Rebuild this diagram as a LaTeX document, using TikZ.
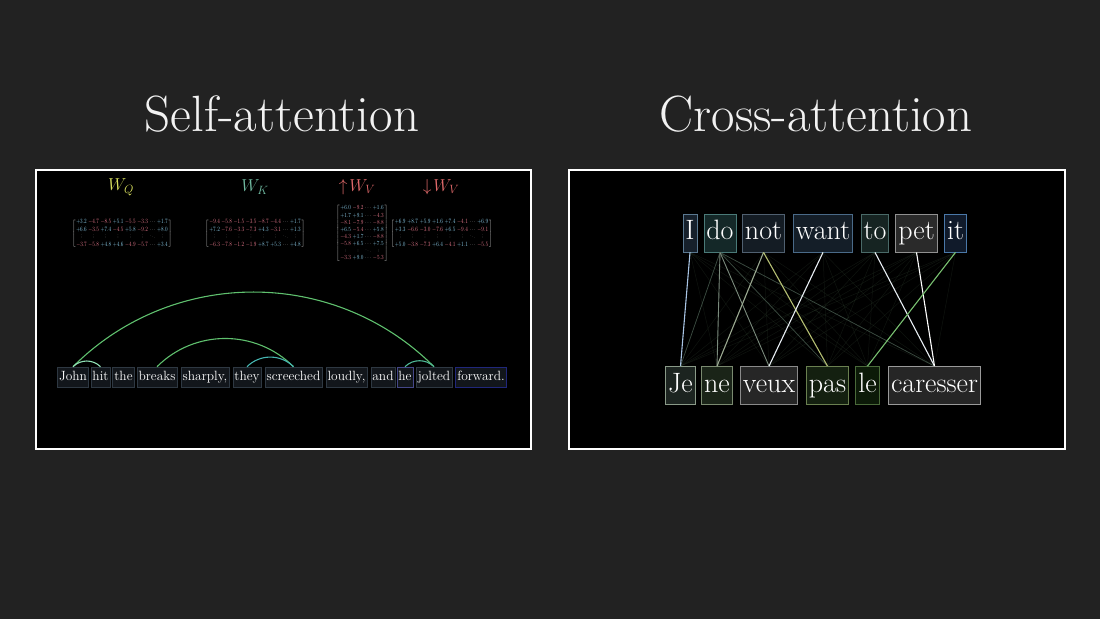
\documentclass[tikz,border=0pt]{standalone}
\usepackage{graphicx}
\usetikzlibrary{calc}
\definecolor{bg}{HTML}{222222}
\definecolor{titlec}{HTML}{F2F2F2}
\definecolor{wqc}{HTML}{D9E05E}
\definecolor{wkc}{HTML}{6FB9A0}
\definecolor{wvc}{HTML}{E0696A}
\definecolor{posc}{HTML}{8ED0EE}
\definecolor{negc}{HTML}{EE7C90}
\definecolor{brk}{HTML}{C0C0C0}
\definecolor{lwfill}{HTML}{12161B}
\definecolor{lwdraw}{HTML}{2E3842}
\definecolor{arcg}{HTML}{5FC06E}
\definecolor{arct}{HTML}{45B5B0}
\definecolor{arcl}{HTML}{8FE0B4}
% right panel word colours
\definecolor{fI}{HTML}{16202B}\definecolor{dI}{HTML}{5A7890}
\definecolor{fdo}{HTML}{142828}\definecolor{ddo}{HTML}{4A7A78}
\definecolor{fnot}{HTML}{141C24}\definecolor{dnot}{HTML}{506070}
\definecolor{fwant}{HTML}{141E28}\definecolor{dwant}{HTML}{4A6A88}
\definecolor{fto}{HTML}{162422}\definecolor{dto}{HTML}{4A6A68}
\definecolor{fpet}{HTML}{2A2A2A}\definecolor{dpet}{HTML}{909090}
\definecolor{fit}{HTML}{101A2A}\definecolor{dit}{HTML}{4A78A8}
\definecolor{fJe}{HTML}{1C2420}\definecolor{dJe}{HTML}{8A9A88}
\definecolor{fne}{HTML}{1A2418}\definecolor{dne}{HTML}{7A8A70}
\definecolor{fveux}{HTML}{262626}\definecolor{dveux}{HTML}{8A8A8A}
\definecolor{fpas}{HTML}{142010}\definecolor{dpas}{HTML}{6A8050}
\definecolor{fle}{HTML}{0C1A08}\definecolor{dle}{HTML}{4A6A3A}
\definecolor{fcar}{HTML}{262626}\definecolor{dcar}{HTML}{9A9A9A}
% link colours
\definecolor{lkI}{HTML}{A8C4E4}
\definecolor{lkdim}{HTML}{3A4A40}
\definecolor{lkmid}{HTML}{7A8A7C}
\definecolor{lknotne}{HTML}{9AA890}
\definecolor{lknotpas}{HTML}{B4BE72}
\definecolor{lkwhite}{HTML}{E8EEF4}
\definecolor{lkit}{HTML}{78C070}
\newcommand\posn[1]{\textcolor{posc}{+#1}}
\newcommand\negn[1]{\textcolor{negc}{-#1}}
\newcommand\dts{\cdots}
\newcommand\vd{\scalebox{1}[0.55]{$\vdots$}}
\newcommand\dd{\scalebox{1}[0.55]{$\ddots$}}
\newcommand\matsetup{\color{brk}\arraycolsep=1.6pt\def\arraystretch{0.95}}
\begin{document}
\begin{tikzpicture}[x=1pt,y=-1pt,
  panel/.style={draw=white,fill=black,line width=1.3pt},
  ttl/.style={text=titlec,font=\fontsize{51}{58}\selectfont,anchor=base,inner sep=0pt},
  wlab/.style={font=\fontsize{17}{20}\selectfont,inner sep=0pt},
  mat/.style={inner sep=0pt},
  wordL/.style={draw=lwdraw,fill=lwfill,line width=0.6pt,text=white,
    font=\fontsize{13.4}{15}\selectfont,inner xsep=1.6pt,inner ysep=0pt,
    text height=9.5pt,text depth=3.5pt,minimum height=20pt},
  wordR/.style={line width=0.8pt,text=white,
    font=\fontsize{28}{31}\selectfont,inner xsep=2.5pt,inner ysep=0pt,
    text height=19.5pt,text depth=6pt,minimum height=38pt},
  arcA/.style={line width=1.1pt,draw=arcg},
  faint/.style={line width=0.5pt,draw=white!50!green!40!gray,opacity=0.11},
  link/.style={line width=1.1pt}
]
\useasboundingbox[fill=bg] (0,0) rectangle (1100,619);

% titles
\node[ttl] (t1) at (282,131) {Self-attention};
\node[ttl] (t2) at (816,131) {Cross-attention};

% panels
\node[panel,minimum width=495pt,minimum height=279pt,inner sep=0pt] (p1) at (283.5,309.5) {};
\node[panel,minimum width=496pt,minimum height=279pt,inner sep=0pt] (p2) at (817,309.5) {};

% matrix labels
\node[wlab,text=wqc] (lq) at (121,187) {$W_Q$};
\node[wlab,text=wkc] (lk) at (255,187) {$W_K$};
\node[wlab,text=wvc] (lvu) at (357,187) {$\uparrow\! W_V$};
\node[wlab,text=wvc] (lvd) at (441,187) {$\downarrow\! W_V$};

% matrices
\node[mat] (mq) at (122,233.5) {\resizebox*{100pt}{30pt}{\matsetup$\left[\begin{array}{cccccccc}
\posn{3.2}&\negn{4.7}&\negn{8.5}&\posn{5.1}&\negn{5.5}&\negn{3.3}&\dts&\posn{1.7}\\
\posn{6.6}&\negn{3.5}&\posn{7.4}&\negn{4.5}&\posn{5.8}&\negn{9.2}&\dts&\posn{8.0}\\
\vd&\vd&\vd&\vd&\vd&\vd&\dd&\vd\\
\negn{3.7}&\negn{5.8}&\posn{4.8}&\posn{4.6}&\negn{4.9}&\negn{5.7}&\dts&\posn{3.4}
\end{array}\right]$}};
\node[mat] (mk) at (255,233.5) {\resizebox*{100pt}{30pt}{\matsetup$\left[\begin{array}{cccccccc}
\negn{9.4}&\negn{5.8}&\negn{1.5}&\negn{3.5}&\negn{8.7}&\negn{4.4}&\dts&\posn{1.7}\\
\posn{7.2}&\negn{7.6}&\negn{3.3}&\negn{7.3}&\posn{4.3}&\negn{3.1}&\dts&\posn{1.3}\\
\vd&\vd&\vd&\vd&\vd&\vd&\dd&\vd\\
\negn{6.3}&\negn{7.8}&\negn{1.2}&\negn{1.9}&\posn{8.7}&\posn{5.3}&\dts&\posn{4.8}
\end{array}\right]$}};
\node[mat] (mvu) at (362,233.5) {\resizebox*{52pt}{57pt}{\matsetup$\left[\begin{array}{cccc}
\posn{6.0}&\negn{9.2}&\dts&\posn{1.6}\\
\posn{1.7}&\posn{9.1}&\dts&\negn{4.3}\\
\negn{8.1}&\negn{7.9}&\dts&\negn{8.8}\\
\posn{6.5}&\negn{5.4}&\dts&\posn{5.8}\\
\negn{4.3}&\posn{1.7}&\dts&\negn{8.8}\\
\negn{5.8}&\posn{6.5}&\dts&\posn{7.5}\\
\vd&\vd&\dd&\vd\\
\negn{3.3}&\posn{9.0}&\dts&\negn{5.3}
\end{array}\right]$}};
\node[mat] (mvd) at (441.5,233.5) {\resizebox*{102pt}{30pt}{\matsetup$\left[\begin{array}{cccccccc}
\posn{6.9}&\posn{8.7}&\posn{5.9}&\posn{1.6}&\posn{7.4}&\negn{4.1}&\dts&\posn{6.9}\\
\posn{3.3}&\negn{6.6}&\negn{3.0}&\negn{7.6}&\posn{6.5}&\negn{9.4}&\dts&\negn{9.1}\\
\vd&\vd&\vd&\vd&\vd&\vd&\dd&\vd\\
\posn{5.0}&\negn{3.8}&\negn{7.3}&\posn{6.4}&\negn{4.1}&\posn{1.1}&\dts&\negn{5.5}
\end{array}\right]$}};

% left sentence
\node[wordL] (john) at (73,377) {John};
\node[wordL] (hit) at (100.5,377) {hit};
\node[wordL] (the) at (123.5,377) {the};
\node[wordL] (breaks) at (157,377) {breaks};
\node[wordL] (sharply) at (205,377) {sharply,};
\node[wordL] (they) at (247,377) {they};
\node[wordL] (screeched) at (293.5,377) {screeched};
\node[wordL] (loudly) at (346.5,377) {loudly,};
\node[wordL] (and) at (383,377) {and};
\node[wordL,draw=lwdraw!60!blue!60!gray] (he) at (405,377) {he};
\node[wordL] (jolted) at (434,377) {jolted};
\node[wordL,draw=lwdraw!70!blue] (forward) at (481,377) {forward.};

% arcs
\draw[arcA] (john.north) to[bend left=45] (jolted.north);
\draw[arcA] (breaks.north) to[bend left=45] (screeched.north);
\draw[arcA,draw=arct] (they.north) to[bend left=45] (screeched.north);
\draw[arcA,draw=arcl] (john.north) to[bend left=45] (hit.north);
\draw[arcA,draw=arct!60!arcg] (he.north) to[bend left=45] (jolted.north);

% right: English words
\node[wordR,draw=dI,fill=fI] (eI) at (690,233) {I};
\node[wordR,draw=ddo,fill=fdo] (edo) at (720,233) {do};
\node[wordR,draw=dnot,fill=fnot] (enot) at (763.5,233) {not};
\node[wordR,draw=dwant,fill=fwant] (ewant) at (823,233) {want};
\node[wordR,draw=dto,fill=fto] (eto) at (875,233) {to};
\node[wordR,draw=dpet,fill=fpet] (epet) at (916.5,233) {pet};
\node[wordR,draw=dit,fill=fit] (eit) at (955.5,233) {it};

% right: French words
\node[wordR,draw=dJe,fill=fJe] (fJe) at (680.5,385.5) {Je};
\node[wordR,draw=dne,fill=fne] (fne) at (717,385.5) {ne};
\node[wordR,draw=dveux,fill=fveux] (fveux) at (769,385.5) {veux};
\node[wordR,draw=dpas,fill=fpas] (fpas) at (827.5,385.5) {pas};
\node[wordR,draw=dle,fill=fle] (fle) at (867.5,385.5) {le};
\node[wordR,draw=dcar,fill=fcar] (fcar) at (934.5,385.5) {caresser};

% faint all-pairs links
\foreach \a in {eI,edo,enot,ewant,eto,epet,eit}{
  \foreach \b in {fJe,fne,fveux,fpas,fle,fcar}{
    \draw[faint] (\a.south) -- (\b.north);
  }
}
% weaker visible links
\draw[link,line width=0.7pt,draw=lkdim] (edo.south) -- (fJe.north);
\draw[link,line width=0.7pt,draw=lkdim] (edo.south) -- (fpas.north);
\draw[link,line width=0.7pt,draw=lkdim] (edo.south) -- (fcar.north);
\draw[link,line width=0.9pt,draw=lkmid] (edo.south) -- (fne.north);
\draw[link,line width=0.9pt,draw=lkmid] (edo.south) -- (fveux.north);
% strong links
\draw[link,draw=lknotne] (enot.south) -- (fne.north);
\draw[link,draw=lknotpas] (enot.south) -- (fpas.north);
\draw[link,draw=lkI] (eI.south) -- (fJe.north);
\draw[link,draw=lkwhite] (ewant.south) -- (fveux.north);
\draw[link,draw=lkwhite] (eto.south) -- (fcar.north);
\draw[link,draw=white] (epet.south) -- (fcar.north);
\draw[link,draw=lkit] (eit.south) -- (fle.north);
\end{tikzpicture}
\end{document}
